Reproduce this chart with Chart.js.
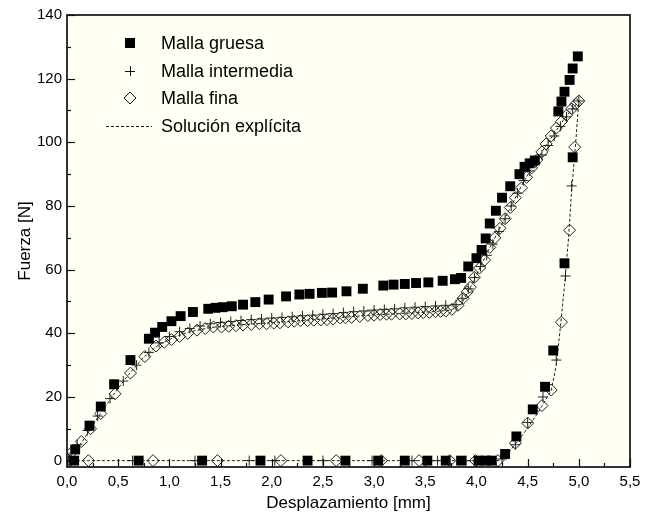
<!DOCTYPE html>
<html>
<head>
<meta charset="utf-8">
<script src="https://cdn.jsdelivr.net/npm/chart.js@4.4.1/dist/chart.umd.min.js"></script>
<style>
  html, body { margin: 0; padding: 0; background: #ffffff; }
  canvas { display: block; }
</style>
</head>
<body>
<canvas id="c" width="656" height="515"></canvas>
<script>
// ---------- Data ----------
const xTickValues = [0, 0.5, 1.0, 1.5, 2.0, 2.5, 3.0, 3.5, 4.0, 4.5, 5.0, 5.5];
const yTickValues = [0, 20, 40, 60, 80, 100, 120, 140];

const seriesNames = ["Malla gruesa", "Malla intermedia", "Malla fina", "Solución explícita"];

// Malla gruesa (filled squares): loading then unloading
const gruesaX = [0.08, 0.22, 0.33, 0.46, 0.62, 0.80, 0.86, 0.93, 1.02, 1.11, 1.23, 1.38, 1.45, 1.52, 1.61, 1.72, 1.84, 1.97,
  2.14, 2.27, 2.37, 2.49, 2.59, 2.73, 2.89, 3.09, 3.19, 3.30, 3.41, 3.53, 3.67, 3.79, 3.85, 3.92, 4.00, 4.05, 4.09, 4.13,
  4.19, 4.25, 4.33, 4.42, 4.47, 4.52, 4.57, 4.80, 4.83, 4.86, 4.91, 4.94, 4.99,
  4.94, 4.86, 4.75, 4.67, 4.55, 4.39, 4.28, 4.15, 4.09, 4.02, 3.85, 3.70, 3.52, 3.30, 3.04, 2.72, 2.35, 1.89, 1.32, 0.70, 0.07];
const gruesaY = [3.5, 11, 17, 24, 31.6, 38.3, 40.2, 42, 43.8, 45.4, 46.7, 47.7, 48, 48.2, 48.5, 49, 49.8, 50.6,
  51.6, 52.2, 52.4, 52.7, 52.8, 53.2, 54, 55, 55.3, 55.5, 55.8, 56, 56.5, 57, 57.4, 61, 63.6, 66.2, 69.8, 74.5,
  78.5, 82.6, 86.2, 90, 92.3, 93.4, 94.3, 109.7, 112.8, 115.9, 119.6, 123.2, 127,
  95.3, 62, 34.6, 23.2, 16.1, 7.6, 2.1, 0, 0, 0, 0, 0, 0, 0, 0, 0, 0, 0, 0, 0, 0];

// Malla intermedia (crosses)
const intermediaX = [0.02, 0.10, 0.20, 0.30, 0.42, 0.55, 0.68, 0.80, 0.90, 1.00, 1.10, 1.20, 1.30, 1.40, 1.50, 1.60, 1.70, 1.80,
  1.90, 2.00, 2.10, 2.20, 2.30, 2.40, 2.50, 2.60, 2.70, 2.80, 2.90, 3.00, 3.10, 3.20, 3.30, 3.40, 3.50, 3.60, 3.70, 3.80,
  3.86, 3.92, 3.98, 4.04, 4.10, 4.16, 4.22, 4.28, 4.34, 4.40, 4.46, 4.52, 4.58, 4.64, 4.70, 4.76, 4.82, 4.88, 4.94, 5.00,
  4.93, 4.87, 4.78, 4.65, 4.50, 4.38, 4.25, 4.12, 3.90, 3.62, 3.37, 2.98, 2.50, 2.03, 1.78, 1.25, 0.64, 0.02];
const intermediaY = [1, 5, 9.5, 14, 19.5, 25, 30, 34, 37, 39, 40.5, 41.5, 42.3, 43, 43.4, 43.7, 44, 44.3,
  44.5, 44.8, 45, 45.2, 45.5, 45.7, 46, 46.2, 46.5, 46.8, 47, 47.3, 47.5, 47.7, 48, 48.2, 48.4, 48.6, 48.8, 49,
  51, 54, 57.5, 61, 64.5, 68, 72, 76, 80, 84, 88, 91, 93.5, 96, 99, 102, 105, 108, 110.5, 113,
  86.3, 58, 31.6, 20, 12, 5, 0.5, 0, 0, 0, 0, 0, 0, 0, 0, 0, 0, 0];

// Malla fina (open diamonds)
const finaX = [0.03, 0.05, 0.14, 0.23, 0.33, 0.47, 0.62, 0.76, 0.87, 0.95, 1.02, 1.10, 1.18, 1.27, 1.35, 1.43, 1.51, 1.58,
  1.65, 1.72, 1.80, 1.88, 1.95, 2.02, 2.08, 2.16, 2.22, 2.28, 2.35, 2.41, 2.48, 2.54, 2.60, 2.67, 2.72, 2.78, 2.86, 2.94,
  3.00, 3.06, 3.12, 3.17, 3.25, 3.31, 3.37, 3.43, 3.48, 3.54, 3.60, 3.65, 3.70, 3.76, 3.82, 3.87, 3.91, 3.94, 3.98, 4.03,
  4.08, 4.13, 4.18, 4.23, 4.28, 4.33, 4.38, 4.44, 4.49, 4.54, 4.59, 4.64, 4.68, 4.73, 4.78, 4.83, 4.88, 4.93, 4.97, 5.00,
  4.96, 4.91, 4.83, 4.73, 4.64, 4.50, 4.38, 4.21, 3.99, 3.74, 3.44, 3.07, 2.63, 2.09, 1.47, 0.84, 0.21];
const finaY = [0, 2.7, 6, 10, 14.8, 21, 27.5, 32.7, 36, 37.2, 38, 39, 40, 41, 41.5, 42, 42, 42.2,
  42.4, 42.6, 42.8, 43, 43, 43.2, 43.3, 43.6, 43.8, 44, 44, 44.1, 44.2, 44.3, 44.5, 44.8, 44.9, 45, 45.3, 45.6,
  45.7, 45.9, 46, 46, 46.1, 46.1, 46.2, 46.4, 46.5, 46.6, 46.8, 46.9, 47, 47.5, 48.8, 51, 53, 54.5, 57.6, 60.5,
  63, 67, 70, 73, 76, 79.5, 82.6, 85.7, 89, 92, 94.5, 97, 99.5, 102, 104.5, 106.5, 108.5, 110.5, 112, 113,
  98.5, 72.4, 43.5, 22.2, 17.3, 11.8, 5.5, 0, 0, 0, 0, 0, 0, 0, 0, 0, 0];

// Solución explícita (dashed line)
const explicitaX = [0, 0.15, 0.30, 0.45, 0.60, 0.75, 0.90, 1.05, 1.20, 1.40, 1.70, 2.00, 2.50, 3.00, 3.50, 3.75, 3.85, 3.95,
  4.10, 4.30, 4.45, 4.55, 4.70, 4.85, 5.00, 4.97, 4.93, 4.90, 4.86, 4.82, 4.78, 4.73, 4.60, 4.45, 4.30, 4.22, 0];
const explicitaY = [0, 6, 13.5, 20.5, 27, 32.5, 36.5, 38.8, 40.5, 41.8, 42.7, 43.3, 44.5, 45.8, 46.6, 47.3, 49, 55,
  65, 77.5, 87, 92.5, 100, 107, 113, 100, 85, 70, 55, 42, 30, 22, 15, 8, 2, 0, 0];

// ---------- Helpers ----------
const toPts = (xs, ys) => xs.map((x, i) => ({ x: x, y: ys[i] }));
const FONT = "'Liberation Sans', Arial, Helvetica, sans-serif";
const fmtComma = v => Number(v).toFixed(1).replace('.', ',');

const decorPlugin = {
  id: 'decor',
  beforeDraw(chart) {
    const { ctx, chartArea: a } = chart;
    ctx.save();
    ctx.fillStyle = '#ffffff';
    ctx.fillRect(0, 0, chart.width, chart.height);
    ctx.fillStyle = '#fffff3';
    ctx.fillRect(a.left, a.top, a.right - a.left, a.bottom - a.top);
    ctx.restore();
  },
  afterDraw(chart) {
    const { ctx, chartArea: a, scales } = chart;
    const xs = scales.x, ys = scales.y;
    ctx.save();
    ctx.strokeStyle = '#111';
    ctx.lineWidth = 1.2;
    // inward ticks on the x axis (major every 0.5, minor every 0.25)
    for (let i = 0; i <= 22; i++) {
      const v = i * 0.25;
      const px = Math.round(xs.getPixelForValue(v)) + 0.5;
      const len = (i % 2 === 0) ? 8 : 4;
      ctx.beginPath(); ctx.moveTo(px, a.bottom); ctx.lineTo(px, a.bottom - len); ctx.stroke();
    }
    // inward ticks on the y axis (major every 20, minor every 10)
    for (let i = 0; i <= 14; i++) {
      const v = i * 10;
      const py = Math.round(ys.getPixelForValue(v)) + 0.5;
      const len = (i % 2 === 0) ? 8 : 4;
      ctx.beginPath(); ctx.moveTo(a.left, py); ctx.lineTo(a.left + len, py); ctx.stroke();
    }
    // frame
    ctx.lineWidth = 1.7;
    ctx.strokeRect(a.left, a.top, a.right - a.left, a.bottom - a.top);

    // legend
    const mx = 130, tx = 161;
    const rows = [43, 71, 98, 126];
    ctx.font = "18px " + FONT;
    ctx.fillStyle = '#000';
    ctx.textBaseline = 'middle';
    ctx.textAlign = 'left';
    rows.forEach((ry, i) => ctx.fillText(seriesNames[i], tx, ry + 1));
    // square
    ctx.fillStyle = '#000';
    ctx.fillRect(mx - 5, rows[0] - 5, 10, 10);
    // cross
    ctx.lineWidth = 1;
    ctx.beginPath();
    ctx.moveTo(mx - 5, rows[1] + 0.5); ctx.lineTo(mx + 5, rows[1] + 0.5);
    ctx.moveTo(mx + 0.5, rows[1] - 5); ctx.lineTo(mx + 0.5, rows[1] + 5);
    ctx.stroke();
    // diamond
    ctx.beginPath();
    ctx.moveTo(mx - 6, rows[2]); ctx.lineTo(mx, rows[2] - 6); ctx.lineTo(mx + 6, rows[2]); ctx.lineTo(mx, rows[2] + 6);
    ctx.closePath(); ctx.stroke();
    // dashed line
    ctx.setLineDash([3, 2]);
    ctx.beginPath(); ctx.moveTo(106, rows[3] + 0.5); ctx.lineTo(152, rows[3] + 0.5); ctx.stroke();
    ctx.restore();
  }
};

new Chart(document.getElementById('c'), {
  type: 'scatter',
  data: {
    datasets: [
      {
        label: seriesNames[3],
        data: toPts(explicitaX, explicitaY),
        showLine: true,
        borderColor: '#222',
        borderWidth: 1,
        borderDash: [3, 2],
        pointRadius: 0,
        fill: false,
        tension: 0,
        order: 4
      },
      {
        label: seriesNames[2],
        data: toPts(finaX, finaY),
        pointStyle: 'rectRot',
        pointRadius: 6,
        borderColor: '#222',
        borderWidth: 1,
        backgroundColor: 'rgba(0,0,0,0)',
        order: 3
      },
      {
        label: seriesNames[1],
        data: toPts(intermediaX, intermediaY),
        pointStyle: 'cross',
        pointRadius: 5,
        borderColor: '#222',
        borderWidth: 1,
        order: 2
      },
      {
        label: seriesNames[0],
        data: toPts(gruesaX, gruesaY),
        pointStyle: 'rect',
        pointRadius: 7,
        borderColor: '#000',
        borderWidth: 0,
        backgroundColor: '#000',
        order: 1
      }
    ]
  },
  options: {
    responsive: false,
    animation: false,
    events: [],
    layout: { padding: { top: 15, right: 26, left: 0, bottom: 0 } },
    plugins: { legend: { display: false }, tooltip: { enabled: false } },
    scales: {
      x: {
        type: 'linear',
        min: 0, max: 5.5,
        afterBuildTicks: s => { s.ticks = xTickValues.map(v => ({ value: v })); },
        afterFit: s => { s.height = 48; },
        grid: { display: false, drawTicks: false },
        border: { display: false },
        ticks: { callback: v => fmtComma(v), font: { family: FONT, size: 15 }, color: '#000', padding: 6, maxRotation: 0, autoSkip: false },
        title: { display: true, text: 'Desplazamiento [mm]', font: { family: FONT, size: 17 }, color: '#000', padding: { top: 0, bottom: 1 } }
      },
      y: {
        type: 'linear',
        min: -2, max: 140,
        afterBuildTicks: s => { s.ticks = yTickValues.map(v => ({ value: v })); },
        afterFit: s => { s.width = 67; },
        grid: { display: false, drawTicks: false },
        border: { display: false },
        ticks: { font: { family: FONT, size: 15 }, color: '#000', padding: 5 },
        title: { display: true, text: 'Fuerza [N]', font: { family: FONT, size: 17 }, color: '#000', padding: { top: 15, bottom: 0 } }
      }
    }
  },
  plugins: [decorPlugin]
});
</script>
</body>
</html>
